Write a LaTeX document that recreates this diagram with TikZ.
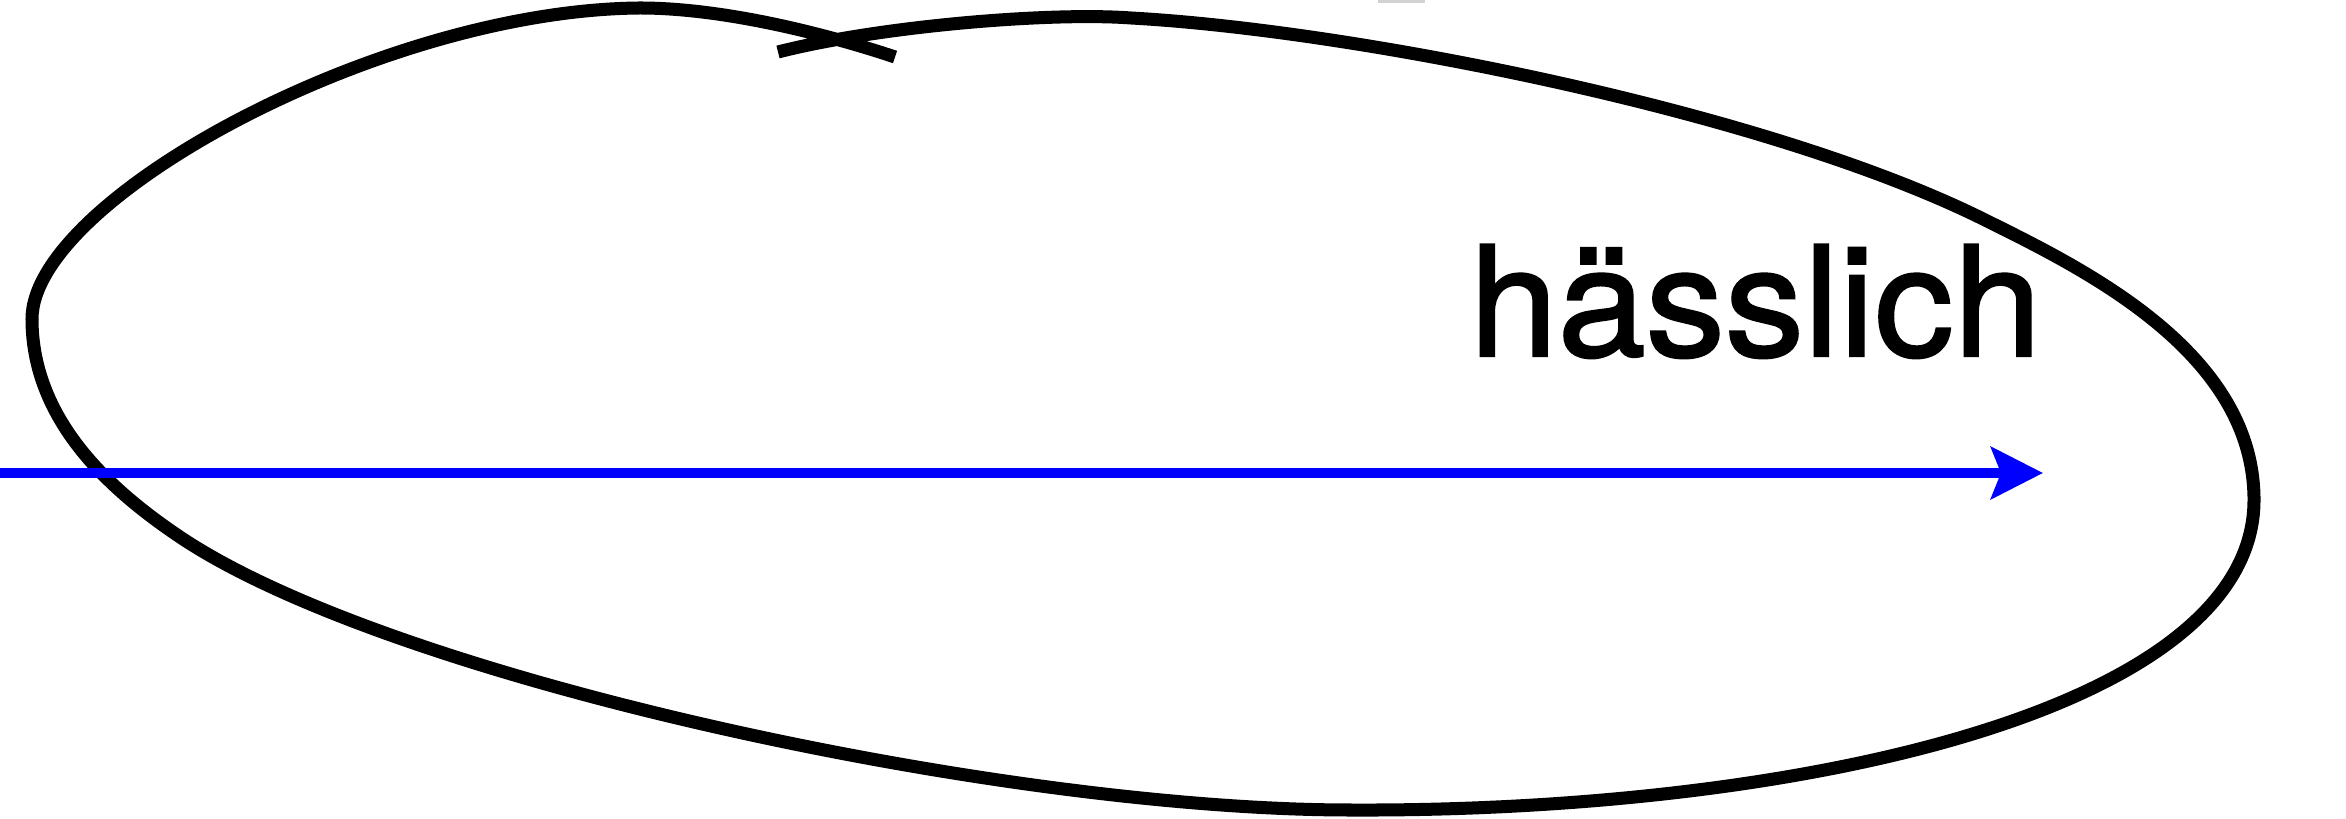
\documentclass[tikz,border=0pt]{standalone}
\usepackage{fontspec}
\setmainfont{TeX Gyre Heros}
\newfontfamily\labelfont[FakeStretch=1.035,FakeBold=1.5]{TeX Gyre Heros}
\usetikzlibrary{arrows.meta}
\tikzset{
  loopline/.style={draw=black, line width=0.13cm, line join=round, line cap=butt},
  axisarrow/.style={draw=blue, line width=0.095cm, -{Stealth[length=0.52cm, width=0.52cm, inset=0.1cm]}},
  labeltext/.style={anchor=base west, inner sep=0pt, font=\labelfont\fontsize{43.5}{43.5}\selectfont}
}
\begin{document}
\begin{tikzpicture}[x=0.01cm,y=-0.01cm]
\useasboundingbox (0,0) rectangle (2346,819);
\fill[gray!35] (1378,0) rectangle (1425,3);
\draw[loopline] (895,57)
  .. controls (820,32) and (720,8) .. (640,8)
  .. controls (380,10) and (32,200) .. (32,319)
  .. controls (32,420) and (110,490) .. (180,537)
  .. controls (390,678) and (1000,810) .. (1351,810)
  .. controls (1800,812) and (2254,710) .. (2254,500)
  .. controls (2254,350) and (2080,267) .. (1979,217)
  .. controls (1760,110) and (1350,30) .. (1131,18)
  .. controls (1050,12) and (880,26) .. (778,52);
\coordinate (aS) at (0,473);
\coordinate (aE) at (2043,473);
\draw[axisarrow] (aS) -- (aE);
\node[labeltext] (lbl) at (1469,356) {hässlich};
\end{tikzpicture}
\end{document}
